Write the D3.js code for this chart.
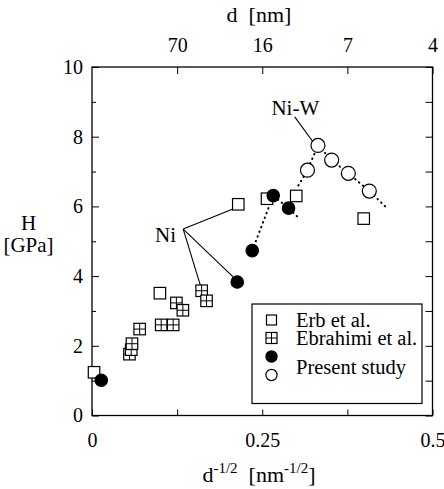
<!DOCTYPE html>
<html>
<head>
<meta charset="utf-8">
<script src="https://cdn.jsdelivr.net/npm/d3@7"></script>
<style>
  body { margin: 0; background: #fff; }
  svg { display: block; }
  svg text { font-family: "Liberation Serif", serif; }
</style>
</head>
<body>
<svg id="chart" width="444" height="489"></svg>
<script>
var FONT = "Liberation Serif";

// data: x = d^-1/2 [nm^-1/2], y = H [GPa]
var erbX = [0.003, 0.0997, 0.2148, 0.257, 0.2999, 0.399];
var erbY = [1.24, 3.51, 6.06, 6.22, 6.30, 5.65];

var ebrahimiX = [0.055, 0.0576, 0.0587, 0.070, 0.1016, 0.1192, 0.1239, 0.1334, 0.161, 0.1682];
var ebrahimiY = [1.76, 1.89, 2.06, 2.48, 2.60, 2.60, 3.23, 3.02, 3.58, 3.29];

var niX = [0.0136, 0.2133, 0.2353, 0.2661, 0.2886];
var niY = [1.01, 3.83, 4.73, 6.31, 5.95];

var niwX = [0.3164, 0.3318, 0.3519, 0.3764, 0.4072];
var niwY = [7.04, 7.75, 7.33, 6.95, 6.44];

// dotted trend lines
var niFitX = [0.2353, 0.2661, 0.2886, 0.304];
var niFitY = [4.73, 6.31, 5.95, 5.66];
var niwFitX = [0.303, 0.3164, 0.3318, 0.3519, 0.3764, 0.4072, 0.431];
var niwFitY = [6.60, 7.04, 7.75, 7.33, 6.95, 6.44, 5.99];

// top axis: grain size d at d^-1/2 positions
var topTickX = [0.125, 0.25, 0.375, 0.5];
var topTickLabels = ["70", "16", "7", "4"];
var bottomTicks = [0, 0.125, 0.25, 0.375, 0.5];
var bottomLabels = { 0: "0", 0.25: "0.25", 0.5: "0.5" };
var leftMajor = [0, 2, 4, 6, 8, 10];
var leftMinor = [1, 3, 5, 7, 9];
var rightTicks = [0, 1, 2, 3, 4, 5, 6, 7, 8, 9, 10];

var svg = d3.select("#chart").attr("font-family", FONT),
  margin = { top: 67, right: 11.5, bottom: 73.5, left: 92 },
  width = +svg.attr("width") - margin.left - margin.right,
  height = +svg.attr("height") - margin.top - margin.bottom;

var x = d3.scaleLinear().domain([0, 0.5]).range([margin.left, margin.left + width]);
var y = d3.scaleLinear().domain([0, 10]).range([margin.top + height, margin.top]);

// axes, all ticks pointing inward
function styleAxis(g) {
  g.attr("font-family", FONT);
  g.select(".domain").remove();
  g.selectAll("line").attr("stroke", "#000").attr("stroke-width", 1);
  g.selectAll("text").attr("fill", "#000").attr("font-size", 20).attr("font-family", FONT);
}

svg.append("g")
  .attr("transform", "translate(" + margin.left + ",0)")
  .call(d3.axisLeft(y).tickValues(leftMajor).tickSize(-7).tickPadding(9).tickFormat(d3.format("d")))
  .call(styleAxis);

svg.append("g")
  .attr("transform", "translate(" + margin.left + ",0)")
  .call(d3.axisLeft(y).tickValues(leftMinor).tickSize(-4).tickFormat(""))
  .call(styleAxis);

svg.append("g")
  .attr("transform", "translate(" + (margin.left + width) + ",0)")
  .call(d3.axisRight(y).tickValues(rightTicks).tickSize(-7).tickFormat(""))
  .call(styleAxis);

svg.append("g")
  .attr("transform", "translate(0," + (margin.top + height) + ")")
  .call(d3.axisBottom(x).tickValues(bottomTicks).tickSize(-6).tickPadding(17)
    .tickFormat(function(d) { return bottomLabels[d] || ""; }))
  .call(styleAxis);

svg.append("g")
  .attr("transform", "translate(0," + margin.top + ")")
  .call(d3.axisTop(x).tickValues(topTickX).tickSize(-7).tickPadding(15.5)
    .tickFormat(function(d, i) { return topTickLabels[i]; }))
  .call(styleAxis);

svg.append("rect")
  .attr("x", margin.left)
  .attr("y", margin.top)
  .attr("width", width)
  .attr("height", height)
  .attr("fill", "none")
  .attr("stroke", "#000")
  .attr("stroke-width", 1.3);

// axis titles
svg.append("text")
  .attr("x", 259)
  .attr("y", 22)
  .attr("text-anchor", "middle")
  .attr("font-size", 22)
  .attr("font-family", FONT)
  .attr("xml:space", "preserve")
  .text("d  [nm]");

var xTitle = svg.append("text")
  .attr("x", 259)
  .attr("y", 481.5)
  .attr("text-anchor", "middle")
  .attr("font-size", 22)
  .attr("font-family", FONT)
  .attr("xml:space", "preserve");
xTitle.append("tspan").text("d");
xTitle.append("tspan").attr("dy", -9).attr("font-size", 15).text("-1/2");
xTitle.append("tspan").attr("dy", 9).text("  [nm");
xTitle.append("tspan").attr("dy", -9).attr("font-size", 15).text("-1/2");
xTitle.append("tspan").attr("dy", 9).text("]");

svg.append("text")
  .attr("x", 28.5)
  .attr("y", 230)
  .attr("text-anchor", "middle")
  .attr("font-size", 21)
  .attr("font-family", FONT)
  .text("H");
svg.append("text")
  .attr("x", 28.5)
  .attr("y", 252)
  .attr("text-anchor", "middle")
  .attr("font-size", 21)
  .attr("font-family", FONT)
  .text("[GPa]");

// trend lines
var line = d3.line()
  .x(function(d) { return x(d[0]); })
  .y(function(d) { return y(d[1]); });

[[niFitX, niFitY], [niwFitX, niwFitY]].forEach(function(s) {
  svg.append("path")
    .datum(d3.zip(s[0], s[1]))
    .attr("d", line)
    .attr("fill", "none")
    .attr("stroke", "#000")
    .attr("stroke-width", 2)
    .attr("stroke-linecap", "round")
    .attr("stroke-dasharray", "0.5,4.5");
});

// annotation leader lines
var niHub = [0.1339, 5.35];
var niTargets = [[0.2097, 5.95], [0.2072, 3.98], [0.1594, 3.72]];
niTargets.forEach(function(t) {
  svg.append("line")
    .attr("x1", x(niHub[0])).attr("y1", y(niHub[1]))
    .attr("x2", x(t[0])).attr("y2", y(t[1]))
    .attr("stroke", "#000").attr("stroke-width", 1.1);
});
svg.append("line")
  .attr("x1", x(0.2977)).attr("y1", y(8.57))
  .attr("x2", x(0.3343)).attr("y2", y(7.59))
  .attr("stroke", "#000").attr("stroke-width", 1.1);

svg.append("text")
  .attr("x", x(0.0925))
  .attr("y", y(4.98))
  .attr("font-size", 21)
  .attr("font-family", FONT)
  .text("Ni");
svg.append("text")
  .attr("x", x(0.2635))
  .attr("y", y(8.62))
  .attr("font-size", 21)
  .attr("font-family", FONT)
  .text("Ni-W");

// markers
function openSquare(g, cx, cy, s) {
  g.append("rect")
    .attr("x", cx - s / 2).attr("y", cy - s / 2)
    .attr("width", s).attr("height", s)
    .attr("fill", "#fff").attr("stroke", "#000").attr("stroke-width", 1.2);
}
function crossSquare(g, cx, cy, s) {
  openSquare(g, cx, cy, s);
  g.append("line").attr("x1", cx).attr("x2", cx).attr("y1", cy - s / 2).attr("y2", cy + s / 2)
    .attr("stroke", "#000").attr("stroke-width", 1);
  g.append("line").attr("x1", cx - s / 2).attr("x2", cx + s / 2).attr("y1", cy).attr("y2", cy)
    .attr("stroke", "#000").attr("stroke-width", 1);
}
function circle(g, cx, cy, r, filled) {
  g.append("circle")
    .attr("cx", cx).attr("cy", cy).attr("r", r)
    .attr("fill", filled ? "#000" : "#fff")
    .attr("stroke", "#000").attr("stroke-width", 1.2);
}

var marks = svg.append("g");
ebrahimiX.forEach(function(d, i) { crossSquare(marks, x(d), y(ebrahimiY[i]), 11.5); });
erbX.forEach(function(d, i) { openSquare(marks, x(d), y(erbY[i]), 11.5); });
niX.forEach(function(d, i) { circle(marks, x(d), y(niY[i]), 6.2, true); });
niwX.forEach(function(d, i) { circle(marks, x(d), y(niwY[i]), 7, false); });

// legend
var legend = svg.append("g");
legend.append("rect")
  .attr("x", 252).attr("y", 304)
  .attr("width", 170).attr("height", 99.5)
  .attr("fill", "#fff").attr("stroke", "#000").attr("stroke-width", 1.2);
openSquare(legend, 271.5, 320, 10);
crossSquare(legend, 271.5, 338, 11);
circle(legend, 271.5, 356.5, 5.6, true);
circle(legend, 271.5, 375, 5.6, false);
var legendText = [["Erb et al.", 327], ["Ebrahimi et al.", 345], ["Present study", 373.5]];
legendText.forEach(function(t) {
  legend.append("text")
    .attr("x", 296).attr("y", t[1])
    .attr("font-size", 20.5)
    .attr("font-family", FONT)
    .text(t[0]);
});
</script>
</body>
</html>
